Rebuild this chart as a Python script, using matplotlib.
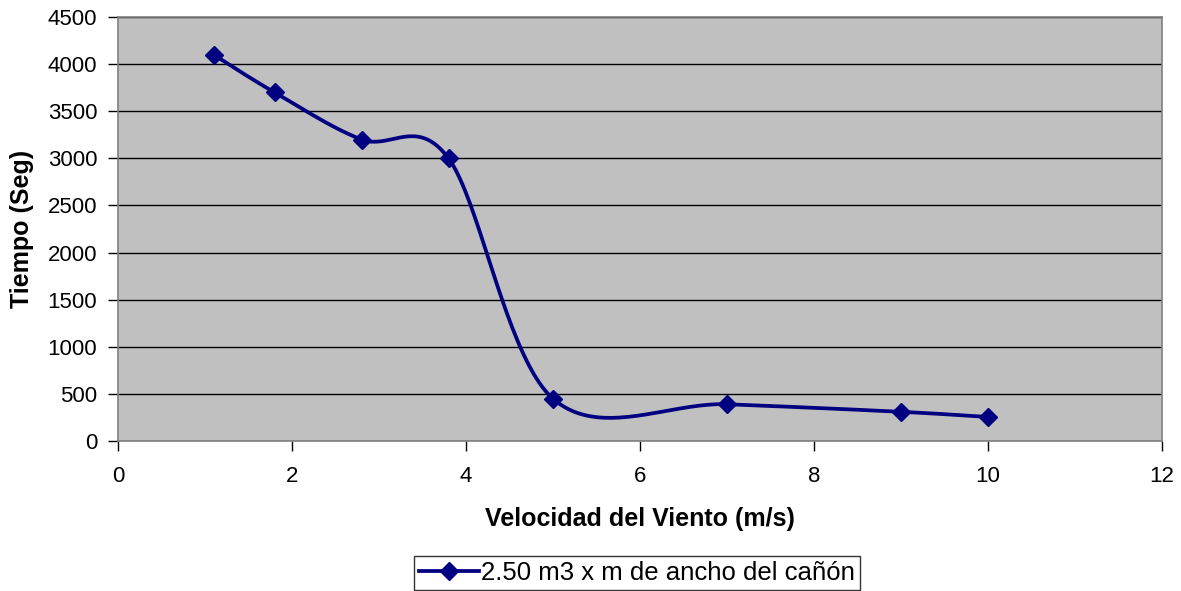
import matplotlib
matplotlib.use("Agg")
import matplotlib.pyplot as plt
import numpy as np

# Data
velocidad = [1.1, 1.8, 2.8, 3.8, 5.0, 7.0, 9.0, 10.0]
tiempo = [4100, 3700, 3200, 3000, 450, 390, 310, 255]
serie = "2.50 m3 x m de ancho del cañón"


def smooth_curve(xs, ys, n=40):
    # Excel-style smoothed line: Bezier segments with Catmull-Rom control points
    p = np.column_stack([xs, ys]).astype(float)
    p = np.vstack([p[0], p, p[-1]])
    out = []
    t = np.linspace(0, 1, n)[:, None]
    for i in range(1, len(p) - 2):
        p0, p1, p2, p3 = p[i - 1], p[i], p[i + 1], p[i + 2]
        c1 = p1 + (p2 - p0) / 6
        c2 = p2 - (p3 - p1) / 6
        seg = ((1 - t) ** 3) * p1 + 3 * ((1 - t) ** 2) * t * c1 \
            + 3 * (1 - t) * t ** 2 * c2 + t ** 3 * p2
        out.append(seg)
    out = np.vstack(out)
    return out[:, 0], out[:, 1]


plt.rcParams["font.family"] = ["Liberation Sans", "DejaVu Sans"]

fig = plt.figure(figsize=(11.81, 5.91), dpi=100)
ax = fig.add_axes([0.0999, 0.2538, 0.8838, 0.7174])
ax.set_facecolor("#C0C0C0")

sx, sy = smooth_curve(velocidad, tiempo)
ax.plot(sx, sy, color="#000080", linewidth=2.7, solid_capstyle="round", zorder=3)
ax.plot(velocidad, tiempo, linestyle="none", marker="D", markersize=9.5,
        color="#000080", zorder=4)

# legend proxy
ax.plot([], [], color="#000080", linewidth=2.7, marker="D", markersize=9.5,
        label=serie)

ax.set_xlim(0, 12)
ax.set_ylim(0, 4500)
ax.set_xticks(np.arange(0, 13, 2))
ax.set_yticks(np.arange(0, 4501, 500))
ax.yaxis.grid(True, color="black", linewidth=1)
ax.set_axisbelow(True)

for s in ax.spines.values():
    s.set_color("#808080")
    s.set_linewidth(1.2)

ax.tick_params(axis="both", direction="out", length=7, width=1,
               color="black", labelsize=16)
ax.tick_params(axis="x", pad=11)
ax.tick_params(axis="y", pad=8)

ax.set_xlabel("Velocidad del Viento (m/s)", fontsize=18, fontweight="bold",
              va="center")
ax.xaxis.set_label_coords(0.5, -0.184)
ax.set_ylabel("Tiempo (Seg)", fontsize=18, fontweight="bold", va="center")
ax.yaxis.set_label_coords(-0.092, 0.5)

leg = ax.legend(loc="upper center", bbox_to_anchor=(0.4975, -0.271),
                fontsize=18.5, frameon=True, fancybox=False, shadow=False,
                borderpad=0.2, handlelength=2.3, handletextpad=0.1,
                borderaxespad=0)
leg.get_frame().set_edgecolor("black")
leg.get_frame().set_linewidth(1)

fig.savefig("out.png", dpi=100)
